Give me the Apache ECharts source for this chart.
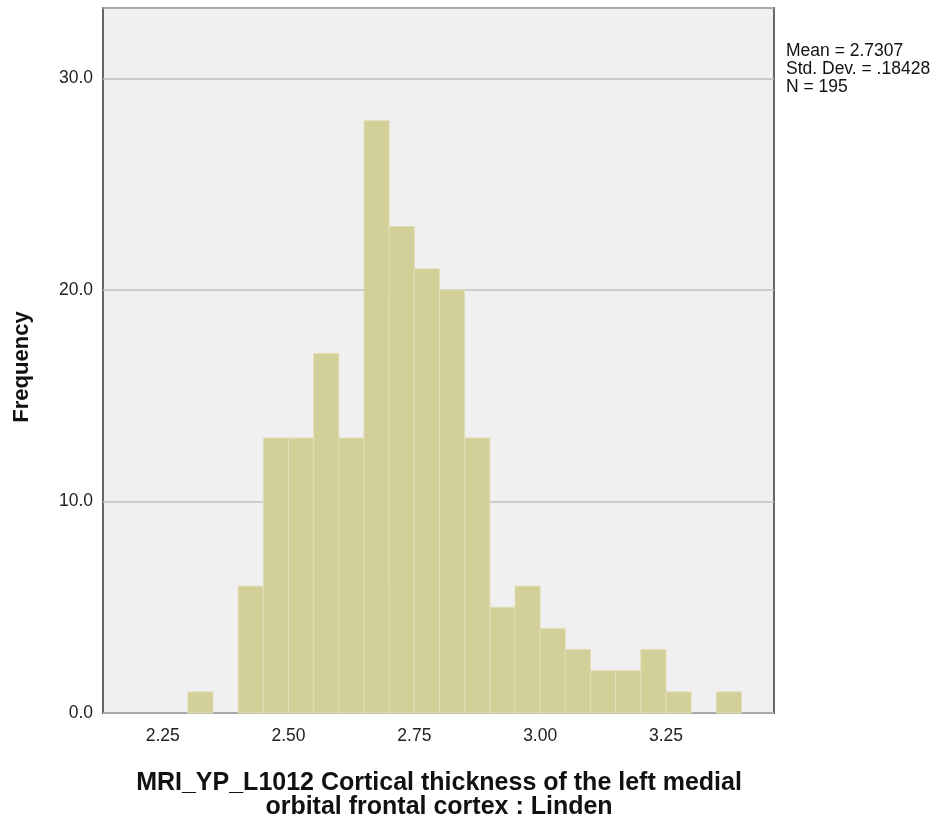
<!DOCTYPE html>
<html>
<head>
<meta charset="utf-8">
<script src="https://cdn.jsdelivr.net/npm/echarts@6/dist/echarts.min.js"></script>
<style>
html,body{margin:0;padding:0;background:#fff;}
#chart{width:940px;height:823px;}
</style>
</head>
<body>
<div id="chart"></div>
<script>
// Histogram bins (lower edge) and their frequencies
const binStarts = [2.30, 2.35, 2.40, 2.45, 2.50, 2.55, 2.60, 2.65, 2.70, 2.75, 2.80, 2.85, 2.90, 2.95, 3.00, 3.05, 3.10, 3.15, 3.20, 3.25, 3.30, 3.35];
const frequencies = [1, 0, 6, 13, 13, 17, 13, 28, 23, 21, 20, 13, 5, 6, 4, 3, 2, 2, 3, 1, 0, 1];
const binWidth = 0.05;
const xTickValues = [2.25, 2.50, 2.75, 3.00, 3.25];
const yTickValues = [0, 10, 20, 30];
const statsLines = ['Mean = 2.7307', 'Std. Dev. = .18428', 'N = 195'];
const xTitle = 'MRI_YP_L1012 Cortical thickness of the left medial\norbital frontal cortex : Linden';
const yTitle = 'Frequency';

const data = binStarts.map((s, i) => [s, s + binWidth, frequencies[i]]);

const chart = echarts.init(document.getElementById('chart'), null, {renderer: 'canvas'});
const FONT = '"Liberation Sans", Arial, sans-serif';

chart.setOption({
  animation: false,
  backgroundColor: '#ffffff',
  grid: {
    left: 103, top: 8, width: 671, height: 705,
    show: true, backgroundColor: '#f0f0f0',
    borderColor: '#666666', borderWidth: 2
  },
  xAxis: {
    type: 'value',
    min: 2.1314, max: 3.4646,
    axisLine: {show: false},
    axisTick: {show: false},
    splitLine: {show: false},
    axisLabel: {
      customValues: xTickValues,
      formatter: v => v.toFixed(2),
      color: '#222', fontFamily: FONT, fontSize: 17.5, margin: 14
    }
  },
  yAxis: {
    type: 'value',
    min: 0, max: 33.33, interval: 10,
    axisLine: {show: false},
    axisTick: {show: false},
    splitLine: {show: true, lineStyle: {color: '#c0c0c0', width: 1.5}},
    axisLabel: {
      showMaxLabel: false,
      formatter: v => (yTickValues.indexOf(v) >= 0 ? v.toFixed(1) : ''),
      color: '#222', fontFamily: FONT, fontSize: 17.5, margin: 10
    }
  },
  series: [{
    type: 'custom',
    data: data,
    encode: {x: [0, 1], y: 2},
    renderItem: function (params, api) {
      const v = api.value(2);
      if (!v) return null;
      const p0 = api.coord([api.value(0), 0]);
      const p1 = api.coord([api.value(1), v]);
      return {
        type: 'rect',
        shape: {x: p0[0], y: p1[1], width: p1[0] - p0[0], height: p0[1] - p1[1]},
        style: {fill: '#d3cf98', stroke: '#e2deb8', lineWidth: 1}
      };
    }
  }],
  graphic: [
    {
      type: 'text', left: 786, top: 42,
      style: {text: statsLines.join('\n'), fontFamily: FONT, fontSize: 17.5, lineHeight: 18, fill: '#111'}
    },
    {
      type: 'text', x: 22, y: 367, rotation: Math.PI / 2,
      style: {text: yTitle, fontFamily: FONT, fontWeight: 'bold', fontSize: 22, fill: '#111', align: 'center', verticalAlign: 'middle'}
    },
    {
      type: 'text', x: 439, y: 771,
      style: {text: xTitle, fontFamily: FONT, fontWeight: 'bold', fontSize: 25, lineHeight: 24, fill: '#111', align: 'center', verticalAlign: 'top'}
    }
  ]
});
</script>
</body>
</html>
